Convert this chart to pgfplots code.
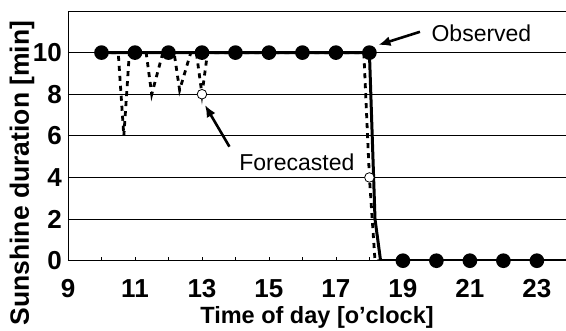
\documentclass[border=0pt]{standalone}
\usepackage{fontspec}
\setmainfont{Liberation Sans}
\usepackage{pgfplots}
\usepackage{pgfplotstable}
\pgfplotsset{compat=1.18}
\usetikzlibrary{arrows.meta}

\pgfplotstableread{
t obs fc
10.000 10 10
10.167 10 10
10.333 10 10
10.500 10 10
10.667 10 6
10.833 10 10
11.000 10 10
11.167 10 10
11.333 10 10
11.500 10 8
11.667 10 9
11.833 10 10
12.000 10 10
12.167 10 10
12.333 10 8.2
12.500 10 9.1
12.667 10 10
12.833 10 10
13.000 10 8
13.167 10 10
13.333 10 10
13.500 10 10
13.667 10 10
13.833 10 10
14.000 10 10
14.167 10 10
14.333 10 10
14.500 10 10
14.667 10 10
14.833 10 10
15.000 10 10
15.167 10 10
15.333 10 10
15.500 10 10
15.667 10 10
15.833 10 10
16.000 10 10
16.167 10 10
16.333 10 10
16.500 10 10
16.667 10 10
16.833 10 10
17.000 10 10
17.167 10 10
17.333 10 10
17.500 10 10
17.667 10 10
17.833 10 10
18.000 10 4
18.167 2 0
18.333 0 0
18.500 0 0
18.667 0 0
18.833 0 0
19.000 0 0
19.167 0 0
19.333 0 0
19.500 0 0
19.667 0 0
19.833 0 0
20.000 0 0
20.167 0 0
20.333 0 0
20.500 0 0
20.667 0 0
20.833 0 0
21.000 0 0
21.167 0 0
21.333 0 0
21.500 0 0
21.667 0 0
21.833 0 0
22.000 0 0
22.167 0 0
22.333 0 0
22.500 0 0
22.667 0 0
22.833 0 0
23.000 0 0
23.167 0 0
23.333 0 0
23.500 0 0
23.667 0 0
23.833 0 0
24.000 0 0
}\datatable

\begin{document}
\begin{tikzpicture}
\begin{axis}[
  scale only axis,
  width=498pt, height=249.7pt,
  xmin=9, xmax=23.87, ymin=0, ymax=12,
  axis line style={black, line width=0.8pt},
  xtick={9,11,...,23},
  minor xtick={10,12,...,22},
  xtick pos=bottom,
  tick align=inside,
  major tick length=4pt, minor tick length=4pt,
  xtick style={black, line width=0.6pt},
  minor tick style={black, line width=0.6pt},
  ytick={0,2,...,12},
  yticklabels={0,2,4,6,8,10,},
  ytick style={draw=none},
  ymajorgrids,
  grid style={black, line width=0.7pt},
  /pgf/number format/assume math mode=true,
  xticklabel style={font=\fontsize{26}{30}\selectfont\bfseries, anchor=base, inner sep=0pt, yshift=-37pt},
  yticklabel style={font=\fontsize{26}{30}\selectfont\bfseries, anchor=east, inner sep=0pt, xshift=-6pt},
  xlabel={Time of day [o'clock]},
  ylabel={Sunshine duration [min]},
  xlabel style={font=\fontsize{23.5}{27}\selectfont\bfseries, at={(axis description cs:0.5,0)}, anchor=base, yshift=-62.6pt},
  ylabel style={font=\fontsize{26.5}{30}\selectfont\bfseries, at={(axis description cs:-0.0924,0.351)}, anchor=center},
]
\addplot[black, line width=2.8pt, dash pattern=on 5pt off 5pt,
  mark=*, mark repeat=6, mark size=4.8pt,
  mark options={solid, line width=0.8pt, fill=white}]
  table[x=t, y=fc] {\datatable};
\addplot[black, line width=3pt, mark=*, mark repeat=6, mark size=5.8pt,
  mark options={solid, fill=black}]
  table[x=t, y=obs] {\datatable};
\node[anchor=west, inner sep=0pt, font=\fontsize{23}{27}\selectfont] at (axis cs:19.85,10.94) {Observed};
\node[anchor=west, inner sep=0pt, font=\fontsize{23}{27}\selectfont] at (axis cs:14.11,4.74) {Forecasted};
\draw[black, line width=2.6pt, -{Latex[length=12pt,width=10pt]}] (axis cs:19.51,11.0) -- (axis cs:18.27,10.37);
\draw[black, line width=2.6pt, -{Latex[length=12pt,width=10pt]}] (axis cs:13.82,5.48) -- (axis cs:13.09,7.48);
\end{axis}
\pgfresetboundingbox
\path[use as bounding box] (current axis.south west) ++(-68pt,-70.3pt) rectangle ([yshift=11pt]current axis.north east);
\end{tikzpicture}
\end{document}
